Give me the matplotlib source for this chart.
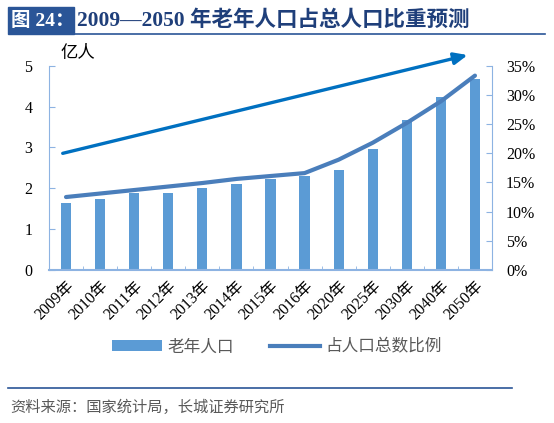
import matplotlib
matplotlib.use('Agg')
import matplotlib.pyplot as plt
from matplotlib.patches import Rectangle, Patch
from matplotlib.lines import Line2D

plt.rcParams['font.family'] = ['Liberation Serif', 'Noto Sans CJK SC']

years = ['2009年', '2010年', '2011年', '2012年', '2013年', '2014年', '2015年',
         '2016年', '2020年', '2025年', '2030年', '2040年', '2050年']
elderly = [1.65, 1.74, 1.89, 1.89, 2.00, 2.10, 2.22, 2.30, 2.45, 2.97, 3.67, 4.24, 4.67]
ratio = [12.5, 13.1, 13.7, 14.3, 14.9, 15.6, 16.1, 16.6, 18.9, 21.8, 25.2, 28.9, 33.3]

bar_color = '#5B9BD5'
line_color = '#4A7EBB'
spine_color = '#8DB3E2'
navy = '#1F3F7A'

fig = plt.figure(figsize=(5.54, 4.23), dpi=100)
ax = fig.add_axes([0.0884, 0.3617, 0.7997, 0.4830])
ax2 = ax.twinx()

x = list(range(len(years)))
ax.bar(x, elderly, width=0.3, color=bar_color, zorder=2)
ax2.plot(x, ratio, color=line_color, linewidth=3, solid_capstyle='round', zorder=3)

ax.set_xlim(-0.5, len(years) - 0.5)
ax.set_ylim(0, 5)
ax2.set_ylim(0, 35)
ax.set_yticks(range(0, 6))
ax2.set_yticks(range(0, 36, 5))
ax2.set_yticklabels([f'{v}%' for v in range(0, 36, 5)])

ax.set_xticks(x)
ax.set_xticklabels(years, rotation=45, ha='right', rotation_mode='anchor', fontsize=11.5)
ax.set_xticks([i + 0.5 for i in range(-1, len(years))], minor=True)
ax.tick_params(axis='x', which='major', length=0, pad=6)
ax.tick_params(axis='x', which='minor', direction='in', length=3, color=spine_color)
ax.tick_params(axis='y', direction='in', length=4, color=spine_color, labelsize=11.5, pad=12)
ax2.tick_params(axis='y', direction='in', length=4, color=spine_color, labelsize=11.5, pad=10)

for a in (ax, ax2):
    a.spines['top'].set_visible(False)
    for s in ('left', 'right', 'bottom'):
        a.spines[s].set_color(spine_color)
ax.spines['right'].set_visible(False)
ax2.spines['left'].set_visible(False)
ax2.spines['bottom'].set_visible(False)
ax.spines['bottom'].set_linewidth(1.5)

ax.text(0.025, 1.02, '亿人', transform=ax.transAxes, fontsize=12.5,
        family=['Noto Sans CJK SC'], va='bottom', ha='left')

# trend arrow
ax.annotate('', xy=(0.945, 1.052), xytext=(0.031, 0.571),
            xycoords='axes fraction', textcoords='axes fraction',
            arrowprops=dict(arrowstyle='-|>,head_length=0.8,head_width=0.35',
                            color='#0070C0', lw=2.4, shrinkA=0, shrinkB=0),
            annotation_clip=False)

handles = [Patch(facecolor=bar_color, edgecolor='none'),
           Line2D([0], [0], color=line_color, lw=3)]
fig.legend(handles, ['老年人口', '占人口总数比例'], loc='center', bbox_to_anchor=(0.5, 0.18),
           ncol=2, frameon=False, prop={'family': 'Noto Sans CJK SC', 'size': 12},
           labelcolor='#595959', handlelength=3.0, handleheight=0.6, columnspacing=2.2,
           handletextpad=0.3)

# header
fig.patches.append(Rectangle((8 / 554, 1 - 34 / 423), 66 / 554, 27 / 423,
                             transform=fig.transFigure, color='#2A5597', zorder=1))
fig.text(11 / 554, 1 - 21 / 423, '图 24：', color='white', fontsize=14, weight='bold',
         va='center', ha='left')
fig.text(77 / 554, 1 - 21 / 423, '2009—2050 年老年人口占总人口比重预测', color=navy,
         fontsize=15.5, weight='bold', va='center', ha='left')
fig.add_artist(Line2D([74 / 554, 545 / 554], [1 - 34 / 423, 1 - 34 / 423],
                      transform=fig.transFigure, color='#2A5597', lw=1.2))

# footer
fig.add_artist(Line2D([8 / 554, 512 / 554], [1 - 388 / 423, 1 - 388 / 423],
                      transform=fig.transFigure, color='#2A5597', lw=1.2))
fig.text(10 / 554, 1 - 407 / 423, '资料来源：国家统计局，长城证券研究所', color='#595959',
         fontsize=11, style='italic', family=['Noto Sans CJK SC'], va='center', ha='left')

fig.savefig('out.png', dpi=100)
